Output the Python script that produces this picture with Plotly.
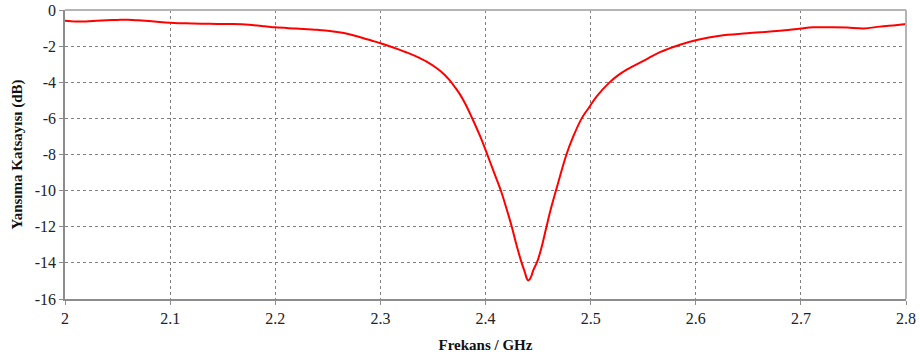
import plotly.graph_objects as go

# Return loss of the antenna versus frequency
freq_ghz = [
    2.000, 2.010, 2.020, 2.030, 2.040, 2.050, 2.060, 2.070, 2.080, 2.090,
    2.100, 2.115, 2.130, 2.145, 2.160, 2.175, 2.190, 2.200, 2.220, 2.240,
    2.252, 2.264, 2.274, 2.284, 2.292, 2.300, 2.308, 2.316, 2.325, 2.334,
    2.344, 2.354, 2.361, 2.366, 2.371, 2.376, 2.381, 2.387, 2.395, 2.402,
    2.408, 2.415, 2.420, 2.425, 2.4297, 2.4344, 2.4376, 2.4392, 2.4407, 2.4422,
    2.4438, 2.4455, 2.4493, 2.4535, 2.4576, 2.462, 2.467, 2.477, 2.4835, 2.4915,
    2.4978, 2.5058, 2.5178, 2.526, 2.5343, 2.5517, 2.566, 2.585, 2.601, 2.623,
    2.649, 2.680, 2.700, 2.712, 2.730, 2.744, 2.760, 2.775, 2.790, 2.800,
]
s11_db = [
    -0.60, -0.64, -0.63, -0.60, -0.57, -0.55, -0.54, -0.57, -0.61, -0.66,
    -0.70, -0.74, -0.76, -0.77, -0.78, -0.82, -0.90, -0.96, -1.03, -1.10,
    -1.16, -1.26, -1.40, -1.56, -1.70, -1.84, -1.99, -2.15, -2.35, -2.57,
    -2.86, -3.24, -3.58, -3.90, -4.28, -4.70, -5.22, -5.95, -7.00, -8.05,
    -8.98, -10.06, -11.00, -12.00, -13.05, -14.00, -14.55, -14.85, -14.98, -14.90,
    -14.70, -14.40, -13.92, -13.10, -12.10, -11.05, -10.00, -8.00, -7.00, -6.00,
    -5.45, -4.78, -4.02, -3.62, -3.30, -2.77, -2.33, -1.92, -1.66, -1.42,
    -1.29, -1.15, -1.02, -0.96, -0.95, -0.97, -1.02, -0.92, -0.84, -0.78,
]

x_ticks = [2.0, 2.1, 2.2, 2.3, 2.4, 2.5, 2.6, 2.7, 2.8]
x_tick_labels = ["2", "2.1", "2.2", "2.3", "2.4", "2.5", "2.6", "2.7", "2.8"]
y_ticks = [0, -2, -4, -6, -8, -10, -12, -14, -16]
y_tick_labels = ["0", "-2", "-4", "-6", "-8", "-10", "-12", "-14", "-16"]

serif = "Times New Roman, Tinos, Liberation Serif, serif"

fig = go.Figure()
fig.add_trace(go.Scatter(
    x=freq_ghz, y=s11_db, mode="lines",
    line=dict(color="#ff0000", width=2, shape="spline", smoothing=1.0),
    showlegend=False, hoverinfo="x+y",
))

axis_common = dict(
    showgrid=True, gridcolor="#808080", griddash="dot", gridwidth=1,
    showline=True, linecolor="#8c8c8c", linewidth=1.5,
    ticks="outside", ticklen=4, tickcolor="#8c8c8c",
    tickfont=dict(family=serif, size=16, color="#222222"),
    zeroline=False, automargin=False,
)

fig.update_xaxes(
    range=[2.0, 2.8], tickvals=x_ticks, ticktext=x_tick_labels,
    title=dict(text="<b>Frekans / GHz</b>", font=dict(family=serif, size=15, color="#111111"),
               standoff=14),
    **axis_common,
)
fig.update_yaxes(
    range=[-16, 0], tickvals=y_ticks, ticktext=y_tick_labels,
    title=dict(text="<b>Yansıma Katsayısı (dB)</b>", font=dict(family=serif, size=15, color="#111111"),
               standoff=8),
    **axis_common,
)

# light frame on the top and right sides of the plotting area
fig.add_shape(type="line", xref="paper", yref="paper", x0=0, x1=1, y0=1, y1=1,
              line=dict(color="#b4b4b4", width=2))
fig.add_shape(type="line", xref="paper", yref="paper", x0=1, x1=1, y0=0, y1=1,
              line=dict(color="#b4b4b4", width=2))

fig.update_layout(
    width=920, height=361,
    margin=dict(l=65, r=14, t=10, b=62),
    plot_bgcolor="white", paper_bgcolor="white",
    font=dict(family=serif),
)

fig.write_html("out.html")
